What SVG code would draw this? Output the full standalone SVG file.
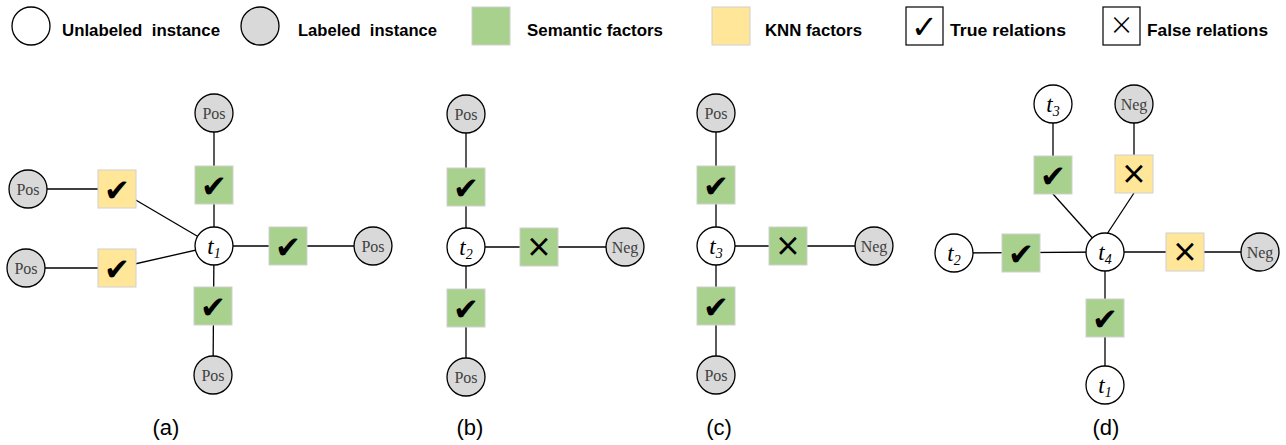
<svg xmlns="http://www.w3.org/2000/svg" width="1286" height="445" viewBox="0 0 1286 445">
<style>
.ln{stroke:#000;stroke-width:1.3;fill:none}
.un{fill:#fff;stroke:#000;stroke-width:1.3}
.lb{fill:#d9d9d9;stroke:#000;stroke-width:1.3}
.gf{fill:#a9d18e;stroke:#d0d0d0;stroke-width:1}
.yf{fill:#ffe699;stroke:#d0d0d0;stroke-width:1}
.bx{fill:#fff;stroke:#000;stroke-width:1.2}
.sym{font-family:"DejaVu Sans",sans-serif;fill:#000;text-anchor:middle;dominant-baseline:central}
.ck{font-size:31px}
.xx{font-family:"Open Sans","Liberation Sans",sans-serif;font-weight:400;font-size:40px}
.xl{font-family:"Open Sans","Liberation Sans",sans-serif;font-weight:300;font-size:36px}
.pl{font-family:"Liberation Serif","DejaVu Serif",serif;font-size:16px;fill:#404040;text-anchor:middle;dominant-baseline:central}
.tl{font-family:"Liberation Serif","DejaVu Serif",serif;font-style:italic;font-size:23px;fill:#000;text-anchor:middle}
.sub{font-size:14px}
.lg{font-family:"Liberation Sans",Arial,sans-serif;font-weight:bold;font-size:17px;fill:#000}
.cap{font-family:"Liberation Sans",Arial,sans-serif;font-size:22px;fill:#000;text-anchor:middle}
</style>
<defs>
<circle id="nd" r="19"/>
<rect id="sq" x="-19" y="-19" width="38" height="38"/>
</defs>

<g id="legend">
<circle class="un" cx="31" cy="26" r="19"/>
<text class="lg" x="62" y="36" textLength="158" lengthAdjust="spacingAndGlyphs">Unlabeled&#160; instance</text>
<circle class="lb" cx="260" cy="26" r="19"/>
<text class="lg" x="298" y="36" textLength="139" lengthAdjust="spacingAndGlyphs">Labeled&#160; instance</text>
<rect class="gf" x="472" y="7" width="38" height="38"/>
<text class="lg" x="527" y="36" textLength="136" lengthAdjust="spacingAndGlyphs">Semantic factors</text>
<rect class="yf" x="712" y="7" width="38" height="38"/>
<text class="lg" x="765" y="36" textLength="97" lengthAdjust="spacingAndGlyphs">KNN factors</text>
<rect class="bx" x="906" y="7" width="37" height="38"/>
<text class="sym" x="924.5" y="27" font-size="32">✓</text>
<text class="lg" x="950" y="36" textLength="116" lengthAdjust="spacingAndGlyphs">True relations</text>
<rect class="bx" x="1103" y="7" width="37" height="38"/>
<text class="sym xl" x="1121.5" y="24">×</text>
<text class="lg" x="1147" y="36" textLength="121" lengthAdjust="spacingAndGlyphs">False relations</text>
</g>

<g id="connectors">
<line class="ln" x1="214" y1="113" x2="214" y2="246"/>
<line class="ln" x1="214" y1="246" x2="373" y2="246"/>
<line class="ln" x1="214" y1="246" x2="213" y2="375"/>
<line class="ln" x1="28" y1="189" x2="117" y2="189"/>
<line class="ln" x1="117" y1="189" x2="214" y2="246"/>
<line class="ln" x1="26" y1="268" x2="117" y2="268"/>
<line class="ln" x1="117" y1="268" x2="214" y2="246"/>
<line class="ln" x1="466" y1="114" x2="466" y2="377"/>
<line class="ln" x1="466" y1="247" x2="625" y2="247"/>
<line class="ln" x1="716" y1="113" x2="716" y2="375"/>
<line class="ln" x1="716" y1="246" x2="874" y2="246"/>
<line class="ln" x1="1053" y1="104" x2="1053" y2="175"/>
<line class="ln" x1="1053" y1="194" x2="1105" y2="252"/>
<line class="ln" x1="1134" y1="104" x2="1134" y2="174"/>
<line class="ln" x1="1134" y1="193" x2="1107" y2="234"/>
<line class="ln" x1="954" y1="253" x2="1105" y2="252"/>
<line class="ln" x1="1105" y1="252" x2="1260" y2="252"/>
<line class="ln" x1="1105" y1="252" x2="1105" y2="385"/>
</g>

<g id="a-t1"><use href="#nd" class="un" x="214" y="246"/><text class="tl" x="214" y="254">t<tspan class="sub" dy="4">1</tspan></text></g>
<g id="a-pos-top"><use href="#nd" class="lb" x="214" y="113"/><text class="pl" x="214" y="113">Pos</text></g>
<g id="a-f-top"><use href="#sq" class="gf" x="214" y="185"/><text class="sym ck" x="214" y="186">✔</text></g>
<g id="a-f-right"><use href="#sq" class="gf" x="288" y="246"/><text class="sym ck" x="288" y="247">✔</text></g>
<g id="a-pos-right"><use href="#nd" class="lb" x="373" y="246"/><text class="pl" x="373" y="246">Pos</text></g>
<g id="a-f-bottom"><use href="#sq" class="gf" x="213" y="306"/><text class="sym ck" x="213" y="307">✔</text></g>
<g id="a-pos-bottom"><use href="#nd" class="lb" x="213" y="375"/><text class="pl" x="213" y="375">Pos</text></g>
<g id="a-k-1"><use href="#sq" class="yf" x="117" y="189"/><text class="sym ck" x="117" y="190">✔</text></g>
<g id="a-pos-l1"><use href="#nd" class="lb" x="28" y="189"/><text class="pl" x="28" y="189">Pos</text></g>
<g id="a-k-2"><use href="#sq" class="yf" x="117" y="268"/><text class="sym ck" x="117" y="269">✔</text></g>
<g id="a-pos-l2"><use href="#nd" class="lb" x="26" y="268"/><text class="pl" x="26" y="268">Pos</text></g>
<text class="cap" x="166" y="435">(a)</text>

<g id="b-t2"><use href="#nd" class="un" x="466" y="247"/><text class="tl" x="466" y="255">t<tspan class="sub" dy="4">2</tspan></text></g>
<g id="b-pos-top"><use href="#nd" class="lb" x="466" y="114"/><text class="pl" x="466" y="114">Pos</text></g>
<g id="b-f-top"><use href="#sq" class="gf" x="466" y="187"/><text class="sym ck" x="466" y="188">✔</text></g>
<g id="b-f-right"><use href="#sq" class="gf" x="539" y="247"/><text class="sym xx" x="539" y="245">×</text></g>
<g id="b-neg"><use href="#nd" class="lb" x="625" y="247"/><text class="pl" x="625" y="247">Neg</text></g>
<g id="b-f-bottom"><use href="#sq" class="gf" x="466" y="308"/><text class="sym ck" x="466" y="309">✔</text></g>
<g id="b-pos-bottom"><use href="#nd" class="lb" x="466" y="377"/><text class="pl" x="466" y="377">Pos</text></g>
<text class="cap" x="470" y="435">(b)</text>

<g id="c-t3"><use href="#nd" class="un" x="716" y="246"/><text class="tl" x="716" y="254">t<tspan class="sub" dy="4">3</tspan></text></g>
<g id="c-pos-top"><use href="#nd" class="lb" x="716" y="113"/><text class="pl" x="716" y="113">Pos</text></g>
<g id="c-f-top"><use href="#sq" class="gf" x="716" y="185"/><text class="sym ck" x="716" y="186">✔</text></g>
<g id="c-f-right"><use href="#sq" class="gf" x="788" y="246"/><text class="sym xx" x="788" y="244">×</text></g>
<g id="c-neg"><use href="#nd" class="lb" x="874" y="246"/><text class="pl" x="874" y="246">Neg</text></g>
<g id="c-f-bottom"><use href="#sq" class="gf" x="716" y="306"/><text class="sym ck" x="716" y="307">✔</text></g>
<g id="c-pos-bottom"><use href="#nd" class="lb" x="716" y="375"/><text class="pl" x="716" y="375">Pos</text></g>
<text class="cap" x="719" y="435">(c)</text>

<g id="d-t4"><use href="#nd" class="un" x="1105" y="252"/><text class="tl" x="1105" y="260">t<tspan class="sub" dy="4">4</tspan></text></g>
<g id="d-t3"><use href="#nd" class="un" x="1053" y="104"/><text class="tl" x="1053" y="112">t<tspan class="sub" dy="4">3</tspan></text></g>
<g id="d-neg-top"><use href="#nd" class="lb" x="1134" y="104"/><text class="pl" x="1134" y="104">Neg</text></g>
<g id="d-f-t3"><use href="#sq" class="gf" x="1053" y="175"/><text class="sym ck" x="1053" y="176">✔</text></g>
<g id="d-k-neg"><use href="#sq" class="yf" x="1134" y="174"/><text class="sym xx" x="1134" y="172">×</text></g>
<g id="d-t2"><use href="#nd" class="un" x="954" y="253"/><text class="tl" x="954" y="261">t<tspan class="sub" dy="4">2</tspan></text></g>
<g id="d-f-t2"><use href="#sq" class="gf" x="1021" y="253"/><text class="sym ck" x="1021" y="254">✔</text></g>
<g id="d-k-right"><use href="#sq" class="yf" x="1185" y="252"/><text class="sym xx" x="1185" y="250">×</text></g>
<g id="d-neg-right"><use href="#nd" class="lb" x="1260" y="252"/><text class="pl" x="1260" y="252">Neg</text></g>
<g id="d-f-t1"><use href="#sq" class="gf" x="1105" y="318"/><text class="sym ck" x="1105" y="319">✔</text></g>
<g id="d-t1"><use href="#nd" class="un" x="1105" y="385"/><text class="tl" x="1105" y="393">t<tspan class="sub" dy="4">1</tspan></text></g>
<text class="cap" x="1106" y="435">(d)</text>
</svg>
